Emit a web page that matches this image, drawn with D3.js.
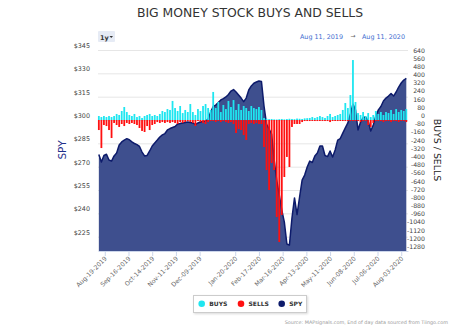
<!DOCTYPE html>
<html><head><meta charset="utf-8">
<script src="https://cdn.jsdelivr.net/npm/d3@7"></script>
<style>
html,body{margin:0;padding:0;background:#fff;}
svg{display:block;font-family:"DejaVu Sans",sans-serif;}
</style></head>
<body>
<svg id="c" width="469" height="331"></svg>
<script>
// ---------- data ----------
const startDate = "2019-08-12";      // first sample, one sample every 3 calendar days
const stepDays = 3;
const spy = [277.8,273.0,277.2,278.0,274.3,273.6,276.9,278.8,283.9,285.9,
  287.1,288.0,287.3,285.9,284.9,284.2,283.0,279.4,276.9,277.2,
  280.1,283.3,285.2,287.1,289.1,290.4,291.3,293.6,294.5,295.2,
  295.8,297.4,297.7,298.1,298.4,298.7,298.4,298.1,297.1,298.1,
  298.7,299.0,299.4,300.6,305.1,308.7,309.6,311.2,312.9,313.8,
  314.8,316.4,318.6,319.6,318.0,316.1,314.1,311.8,314.1,319.3,
  321.9,323.6,324.4,325.1,324.7,309.0,297.4,294.2,291.0,274.3,
  261.4,251.8,242.1,234.4,220.3,219.6,237.0,249.9,239.2,250.5,
  261.4,264.6,269.8,273.6,272.7,276.9,278.8,283.3,283.3,277.2,
  276.5,280.1,276.2,280.7,287.1,288.1,291.6,294.9,298.1,303.9,
  310.3,306.5,293.6,298.7,301.6,301.9,299.4,292.9,296.8,302.6,
  306.5,308.7,312.2,314.1,315.4,317.0,315.4,318.0,321.2,323.8,
  325.7,326.7];
const buys = [39,29,39,29,39,29,39,59,49,88,
  127,78,49,39,59,29,39,20,39,49,
  59,39,49,39,59,88,78,107,98,186,
  117,88,137,68,98,78,156,78,49,107,
  88,137,156,117,98,274,117,176,78,147,
  107,186,127,195,98,156,98,137,117,88,
  137,117,107,127,98,20,12,8,10,6,
  5,8,10,6,9,12,10,8,14,12,
  10,16,18,20,29,20,29,39,29,20,
  39,59,29,39,49,59,98,166,117,244,
  586,176,68,49,78,39,68,29,49,88,
  59,78,49,78,68,98,59,107,78,98,
  88,107];
const sells = [-98,-274,-49,-59,-98,-176,-29,-49,-68,-39,
  -59,-29,-39,-29,-39,-49,-78,-107,-117,-59,
  -98,-49,-39,-20,-29,-20,-29,-20,-29,-20,
  -29,-39,-20,-29,-20,-10,-20,-29,-59,-10,
  -20,-29,-39,-20,-10,-10,-20,-10,-20,-10,
  -20,-29,-20,-39,-127,-88,-98,-147,-195,-39,
  -29,-39,-29,-39,-39,-264,-489,-684,-420,-489,
  -948,-1192,-928,-557,-361,-459,-68,-39,-39,-39,
  -20,-10,-10,-10,-5,-10,-10,-5,-10,-10,
  -10,-20,-10,-5,-10,-5,-10,-10,-10,-10,
  -5,-10,-10,-20,-10,-10,-49,-68,-29,-10,
  -10,-10,-20,-10,-10,-20,-10,-10,-20,-10,
  -10,-20];
const xTickLabels = ["Aug-19-2019","Sep-16-2019","Oct-14-2019","Nov-11-2019","Dec-09-2019",
  "Jan-20-2020","Feb-17-2020","Mar-16-2020","Apr-13-2020","May-11-2020","Jun-08-2020",
  "Jul-06-2020","Aug-03-2020"];
const leftTicks = [225,240,255,270,285,300,315,330,345];
const rightTicks = [640,560,480,400,320,240,160,80,0,-80,-160,-240,-320,-400,-480,-560,-640,
  -720,-800,-880,-960,-1040,-1120,-1200,-1280];
const legendItems = [{name:"BUYS",color:"#1fe6f0"},{name:"SELLS",color:"#ff1010"},{name:"SPY",color:"#0d1b6b"}];

// ---------- scales ----------
const svg = d3.select("#c");
const L=98, R=408, T=50, B=251;
const parse = d3.timeParse("%Y-%m-%d");
const parseTick = d3.timeParse("%b-%d-%Y");
const t0 = parse(startDate);
const dates = spy.map((d,i)=>d3.timeDay.offset(t0, i*stepDays));
const x = d3.scaleTime().domain([parse("2019-08-11"), parse("2020-08-11")]).range([L,R]);
const yL = d3.scaleLinear().domain([215.8,345]).range([B,T]);
const yR = d3.scaleLinear().domain([-1280,684]).range([B,T]);

// title
svg.append("text").attr("x",250).attr("y",17).attr("text-anchor","middle")
  .attr("font-size",12.4).attr("fill","#333").text("BIG MONEY STOCK BUYS AND SELLS");

// range selector
svg.append("rect").attr("x",98).attr("y",31).attr("width",17).attr("height",11).attr("fill","#e6ebf5").attr("rx",1);
svg.append("text").attr("x",100).attr("y",39.5).attr("font-size",6.5).attr("font-weight","bold").attr("fill","#333").text("1y");
svg.append("path").attr("d","M109.5,36 L113,36 L111.25,38 Z").attr("fill","#333");
svg.append("text").attr("x",300).attr("y",38.5).attr("font-size",6.4).attr("fill","#3d6bd0").text("Aug 11, 2019");
svg.append("text").attr("x",353).attr("y",38).attr("text-anchor","middle").attr("font-size",6).attr("fill","#666").text("→");
svg.append("text").attr("x",362).attr("y",38.5).attr("font-size",6.4).attr("fill","#3d6bd0").text("Aug 11, 2020");

// grid
svg.append("g").selectAll("line").data(leftTicks).join("line")
  .attr("x1",L).attr("x2",R).attr("y1",d=>yL(d)+0.5).attr("y2",d=>yL(d)+0.5)
  .attr("stroke","#e6e6e6").attr("stroke-width",1);

// left axis labels
svg.append("g").selectAll("text").data(leftTicks).join("text")
  .attr("x",90).attr("y",d=>yL(d)-2).attr("text-anchor","end")
  .attr("font-size",6.4).attr("fill","#444").text(d=>"$"+d);
svg.append("text").attr("transform","translate(66,150) rotate(-90)").attr("text-anchor","middle")
  .attr("font-size",10.5).attr("fill","#1f2f8a").text("SPY");

// right axis labels
svg.append("g").selectAll("text").data(rightTicks).join("text")
  .attr("x",425).attr("y",d=>yR(d)-2).attr("text-anchor","end")
  .attr("font-size",6.2).attr("fill","#444").text(d=>d);
svg.append("text").attr("transform","translate(434,150) rotate(90)").attr("text-anchor","middle")
  .attr("font-size",9.4).attr("fill","#222").text("BUYS / SELLS");

// SPY area + line
const pts = spy.map((v,i)=>({d:dates[i],v}));
svg.append("path").datum(pts)
  .attr("d", d3.area().x(p=>x(p.d)).y0(B).y1(p=>yL(p.v)))
  .attr("fill","#3e4f8e");
svg.append("path").datum(pts)
  .attr("d", d3.line().x(p=>x(p.d)).y(p=>yL(p.v)))
  .attr("fill","none").attr("stroke","#0d1b6b").attr("stroke-width",1.5).attr("stroke-linejoin","round");

// bars
const bw = 1.8;
svg.append("g").selectAll("rect").data(buys.map((v,i)=>({d:dates[i],v}))).join("rect")
  .attr("x",p=>x(p.d)-bw/2).attr("width",bw)
  .attr("y",p=>yR(p.v)).attr("height",p=>yR(0)-yR(p.v))
  .attr("fill","#1fe6f0");
svg.append("g").selectAll("rect").data(sells.map((v,i)=>({d:dates[i],v}))).join("rect")
  .attr("x",p=>x(p.d)-bw/2).attr("width",bw)
  .attr("y",yR(0)).attr("height",p=>Math.max(1,yR(p.v)-yR(0)))
  .attr("fill","#ff1010");

// x axis
const xg = svg.append("g").attr("transform",`translate(0,${B})`)
  .call(d3.axisBottom(x).tickValues(xTickLabels.map(parseTick)).tickFormat(d3.timeFormat("%b-%d-%Y")).tickSize(5).tickSizeOuter(0));
xg.select(".domain").attr("stroke","#ccd6eb");
xg.selectAll(".tick line").attr("stroke","#ccd6eb");
xg.selectAll(".tick text").attr("font-size",6.2).attr("fill","#666")
  .attr("font-family","DejaVu Sans, sans-serif")
  .attr("text-anchor","end").attr("dy",0).attr("y",0)
  .attr("transform","translate(2,8) rotate(-45)");

// legend
const lg = svg.append("g");
lg.append("rect").attr("x",193.5).attr("y",295.5).attr("width",113).attr("height",17)
  .attr("fill","#fff").attr("stroke","#cccccc").attr("stroke-width",1)
  .style("filter","drop-shadow(1px 1px 1px rgba(0,0,0,0.15))");
const lx = [201.7,241,281.7];
legendItems.forEach((it,i)=>{
  lg.append("circle").attr("cx",lx[i]).attr("cy",303.8).attr("r",3.3).attr("fill",it.color);
  lg.append("text").attr("x",lx[i]+7.5).attr("y",306).attr("font-size",6).attr("font-weight","bold")
    .attr("fill","#333").text(it.name);
});

// credits
svg.append("text").attr("x",448).attr("y",324).attr("text-anchor","end")
  .attr("font-size",4.9).attr("fill","#999").text("Source: MAPsignals.com, End of day data sourced from Tiingo.com");
</script>
</body></html>
